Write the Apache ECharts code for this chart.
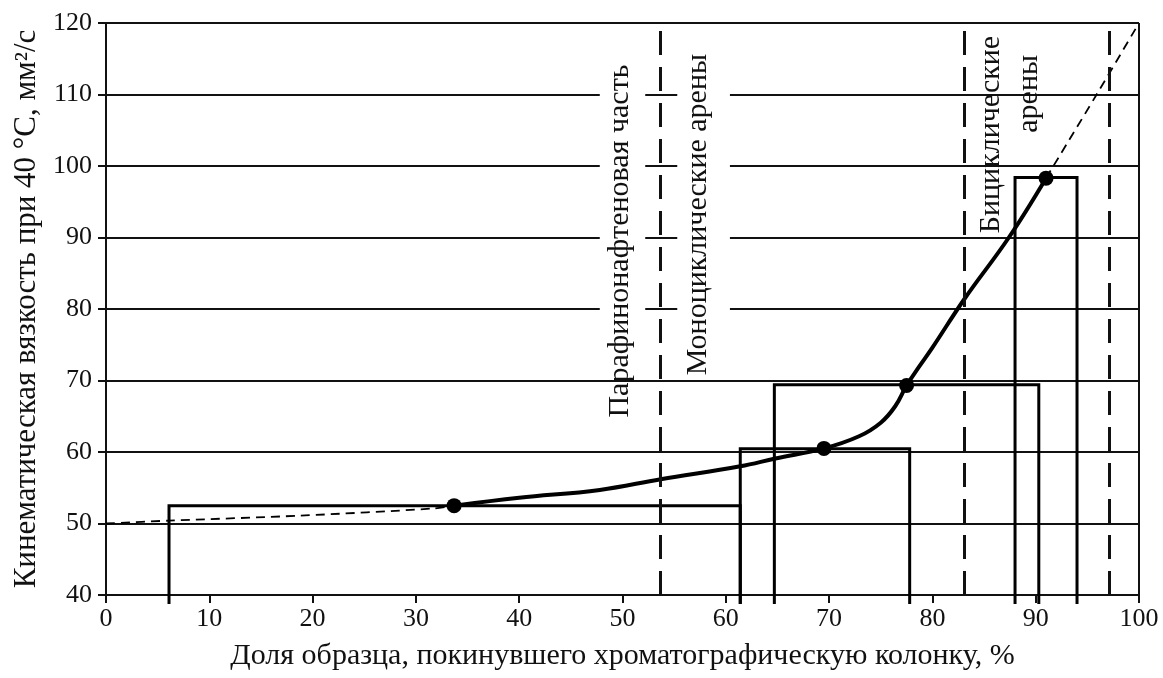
<!DOCTYPE html>
<html>
<head>
<meta charset="utf-8">
<script src="https://cdn.jsdelivr.net/npm/echarts@6/dist/echarts.min.js"></script>
<style>
  html, body { margin: 0; padding: 0; background: #fff; }
  #chart { width: 1163px; height: 678px; }
</style>
</head>
<body>
<div id="chart"></div>
<script>
  // прямоугольники фракций: начало, конец, вязкость
  const rectStart = [6.1, 61.4, 64.7, 88.0]
  const rectEnd = [61.4, 77.8, 90.3, 94.0]
  const rectTop = [52.5, 60.45, 69.4, 98.4]

  // точки на кривой
  const pointX = [33.7, 69.5, 77.5, 91.0]
  const pointY = [52.5, 60.5, 69.3, 98.3]

  // сплошная кривая
  const curveX = [33.7, 40, 47.8, 53.7, 61.4, 64.8, 69.5, 72.9, 75.0, 76.4, 77.5, 78.7, 80.0, 83.1, 87.4, 91.0]
  const curveY = [52.5, 53.6, 54.7, 56.2, 58.0, 59.1, 60.5, 62.2, 64.1, 66.4, 69.3, 71.9, 74.6, 81.4, 90.0, 98.3]

  // пунктирные продолжения
  const headX = [0, 6.1, 18.8, 31.7, 33.7]
  const headY = [50, 50.4, 51.1, 52.1, 52.5]
  const tailX = [91.0, 95.9, 100]
  const tailY = [98.3, 110, 120]

  // границы зон
  const zoneX = [53.7, 83.1, 97.1]

  // подписи зон
  const labelText = ['Парафинонафтеновая часть', 'Моноциклические арены', 'Бициклические', 'арены']
  const labelX = [49.8, 57.3, 85.7, 89.4]
  const labelY = [89.5, 93.2, 104.4, 110.1]
  // белая подложка под подписью (пусто — без подложки)
  const maskLeft = [47.8, 55.3, null, null]
  const maskRight = [52.2, 60.4, null, null]

  const font = 'Liberation Serif'
  const chart = echarts.init(document.getElementById('chart'))

  const zip = (xs, ys) => xs.map((x, i) => [x, ys[i]])

  function renderRect(params, api) {
    const x0 = api.value(0), x1 = api.value(1), top = api.value(2)
    const a = api.coord([x0, 40]), b = api.coord([x0, top])
    const c = api.coord([x1, top]), d = api.coord([x1, 40])
    return {
      type: 'polyline',
      shape: { points: [[a[0], a[1] + 9], b, c, [d[0], d[1] + 9]] },
      style: { stroke: '#000', lineWidth: 3, fill: null }
    }
  }

  function renderLabel(params, api) {
    const i = params.dataIndex
    const p = api.coord([labelX[i], labelY[i]])
    const children = []
    if (maskLeft[i] != null) {
      const m0 = api.coord([maskLeft[i], 118])
      const m1 = api.coord([maskRight[i], 72])
      children.push({
        type: 'rect',
        shape: { x: m0[0], y: m0[1], width: m1[0] - m0[0], height: m1[1] - m0[1] },
        style: { fill: '#fff' }
      })
    }
    children.push({
      type: 'text',
      x: p[0], y: p[1], rotation: Math.PI / 2,
      style: {
        text: labelText[i], fill: '#111', font: '30px "' + font + '"',
        align: 'center', verticalAlign: 'middle'
      }
    })
    return { type: 'group', children: children }
  }

  const option = {
    animation: false,
    grid: { left: 106, right: 24, top: 23, bottom: 83 },
    xAxis: {
      type: 'value', min: 0, max: 100, interval: 10,
      name: 'Доля образца, покинувшего хроматографическую колонку, %',
      nameLocation: 'middle', nameGap: 46,
      nameTextStyle: { fontFamily: font, fontSize: 30, color: '#111' },
      axisLine: { onZero: false, lineStyle: { color: '#111', width: 2 } },
      axisTick: { length: 8, lineStyle: { color: '#111', width: 2 } },
      axisLabel: { fontFamily: font, fontSize: 26, color: '#111', margin: 11 },
      splitLine: { show: false }
    },
    yAxis: {
      type: 'value', min: 40, max: 120, interval: 10,
      name: 'Кинематическая вязкость при 40 °C, мм²/с',
      nameLocation: 'middle', nameGap: 58,
      nameTextStyle: { fontFamily: font, fontSize: 31, color: '#111' },
      axisLine: { show: true, lineStyle: { color: '#111', width: 2 } },
      axisTick: { show: true, length: 8, lineStyle: { color: '#111', width: 2 } },
      axisLabel: { fontFamily: font, fontSize: 26, color: '#111', margin: 14 },
      splitLine: { show: true, lineStyle: { color: '#111', width: 2 } }
    },
    series: [
      {
        type: 'custom', name: 'подписи', z: 1,
        renderItem: renderLabel,
        data: labelX.map((x, i) => [x, labelY[i]]),
        clip: false, silent: true
      },
      {
        type: 'custom', name: 'фракции', z: 2,
        renderItem: renderRect,
        encode: { x: [0, 1], y: 2 },
        data: rectStart.map((s, i) => [s, rectEnd[i], rectTop[i]]),
        clip: false, silent: true
      },
      {
        type: 'line', name: 'границы', z: 3,
        data: [], symbol: 'none',
        markLine: {
          silent: true, symbol: 'none', label: { show: false },
          data: zoneX.map(x => [
            { coord: [x, 40], lineStyle: { type: [24, 12], width: 3, color: '#111' } },
            { coord: [x, 120] }
          ]).concat([[
            { coord: [100, 40], lineStyle: { type: 'solid', width: 2, color: '#111' } },
            { coord: [100, 120] }
          ]])
        }
      },
      {
        type: 'line', name: 'кривая', z: 4,
        data: zip(curveX, curveY),
        smooth: 0.4, symbol: 'none',
        lineStyle: { color: '#000', width: 4 }
      },
      {
        type: 'line', name: 'начало', z: 4,
        data: zip(headX, headY),
        smooth: 0.3, symbol: 'none',
        lineStyle: { color: '#000', width: 1.8, type: [9, 6] }
      },
      {
        type: 'line', name: 'хвост', z: 4,
        data: zip(tailX, tailY),
        smooth: 0.3, symbol: 'none',
        lineStyle: { color: '#000', width: 1.8, type: [9, 6] }
      },
      {
        type: 'scatter', name: 'точки', z: 5,
        data: zip(pointX, pointY),
        symbolSize: 15,
        itemStyle: { color: '#000', opacity: 1 }
      }
    ]
  }

  chart.setOption(option)
</script>
</body>
</html>
